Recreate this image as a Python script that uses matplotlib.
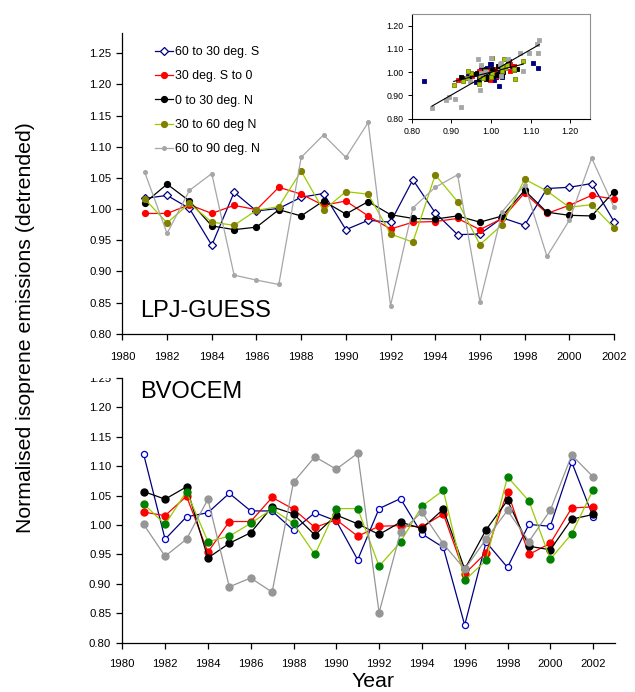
import matplotlib
matplotlib.use('Agg')
import matplotlib.pyplot as plt
import numpy as np
from matplotlib.ticker import FormatStrFormatter
from matplotlib.transforms import Bbox, TransformedBbox

plt.rcParams['font.family'] = ['Liberation Sans', 'DejaVu Sans']

# ---------------- data ----------------
years = list(range(1981, 2003))
region_labels = ["60 to 30 deg. S", "30 deg. S to 0", "0 to 30 deg. N",
                 "30 to 60 deg N", "60 to 90 deg. N"]

# LPJ-GUESS (upper panel)
lpj_60S_30S = [1.017, 1.022, 1.001, 0.942, 1.027, 0.997, 1.001, 1.019, 1.025, 0.967, 0.982,
               0.979, 1.047, 0.994, 0.959, 0.960, 0.986, 0.974, 1.033, 1.035, 1.041, 0.980]
lpj_30S_0 = [0.993, 0.993, 1.007, 0.993, 1.006, 0.999, 1.035, 1.024, 1.006, 1.013, 0.989,
             0.968, 0.979, 0.980, 0.985, 0.967, 0.985, 1.026, 0.993, 1.006, 1.022, 1.016]
lpj_0_30N = [1.010, 1.040, 1.013, 0.973, 0.967, 0.971, 0.999, 0.989, 1.013, 0.992, 1.012,
             0.991, 0.985, 0.984, 0.989, 0.979, 0.989, 1.030, 0.995, 0.990, 0.989, 1.028]
lpj_30N_60N = [1.016, 0.978, 1.009, 0.979, 0.974, 0.998, 1.004, 1.061, 0.998, 1.028, 1.024,
               0.960, 0.947, 1.055, 1.012, 0.943, 0.975, 1.048, 1.029, 1.003, 1.007, 0.970]
lpj_60N_90N = [1.059, 0.961, 1.030, 1.057, 0.894, 0.886, 0.879, 1.083, 1.119, 1.083, 1.139,
               0.845, 1.002, 1.035, 1.055, 0.851, 0.996, 1.039, 0.924, 0.982, 1.082, 1.003]

# BVOCEM (lower panel)
bvo_60S_30S = [1.120, 0.976, 1.014, 1.021, 1.054, 1.024, 1.024, 0.991, 1.021, 1.007, 0.941,
               1.028, 1.045, 0.985, 0.962, 0.830, 0.971, 0.928, 1.001, 0.998, 1.107, 1.014]
bvo_30S_0 = [1.022, 1.016, 1.049, 0.954, 1.006, 1.006, 1.047, 1.027, 0.996, 1.009, 0.981,
             0.998, 0.999, 0.997, 1.019, 0.917, 0.953, 1.057, 0.950, 0.969, 1.029, 1.031]
bvo_0_30N = [1.057, 1.044, 1.065, 0.944, 0.969, 0.987, 1.031, 1.019, 0.983, 1.017, 1.002,
             0.984, 1.005, 0.994, 1.027, 0.925, 0.992, 1.042, 0.964, 0.958, 1.010, 1.018]
bvo_30N_60N = [1.036, 1.001, 1.057, 0.972, 0.981, 1.003, 1.027, 1.003, 0.950, 1.028, 1.028,
               0.930, 0.971, 1.032, 1.059, 0.906, 0.940, 1.082, 1.041, 0.942, 0.985, 1.060]
bvo_60N_90N = [1.001, 0.947, 0.976, 1.044, 0.895, 0.910, 0.886, 1.073, 1.116, 1.095, 1.122,
               0.851, 0.988, 1.022, 0.968, 0.925, 0.976, 1.025, 0.972, 1.025, 1.119, 1.082]

lpj_series = [lpj_60S_30S, lpj_30S_0, lpj_0_30N, lpj_30N_60N, lpj_60N_90N]
bvo_series = [bvo_60S_30S, bvo_30S_0, bvo_0_30N, bvo_30N_60N, bvo_60N_90N]

y_ticks = [0.80, 0.85, 0.90, 0.95, 1.00, 1.05, 1.10, 1.15, 1.20, 1.25]
x_ticks = list(range(1980, 2003, 2))
inset_ticks = [0.80, 0.90, 1.00, 1.10, 1.20]

# ---------------- styles ----------------
NAVY = '#000080'
top_styles = [
    dict(color=NAVY, marker='D', ms=3.6, mfc='white', mec=NAVY, mew=0.9),
    dict(color='#FF0000', marker='o', ms=4.2, mfc='#FF0000', mec='#FF0000'),
    dict(color='black', marker='o', ms=4.2, mfc='black', mec='black'),
    dict(color='#99CC00', marker='o', ms=4.2, mfc='#808000', mec='#808000'),
    dict(color='#A6A6A6', marker='o', ms=2.6, mfc='#A6A6A6', mec='#A6A6A6'),
]
bot_styles = [
    dict(color=NAVY, marker='o', ms=4.4, mfc='white', mec='#0000CC', mew=0.9),
    dict(color='#FF0000', marker='o', ms=5.0, mfc='#FF0000', mec='#FF0000'),
    dict(color='black', marker='o', ms=5.0, mfc='black', mec='black'),
    dict(color='#99CC00', marker='o', ms=5.0, mfc='#008000', mec='#008000'),
    dict(color='#969696', marker='o', ms=5.0, mfc='#969696', mec='#969696'),
]
inset_colors = [(NAVY, NAVY), ('#FF0000', '#FF0000'), ('black', 'black'),
                ('#99CC00', '#808000'), ('#A6A6A6', '#A6A6A6')]

W, H = 635.0, 692.0
fig = plt.figure(figsize=(W / 100, H / 100), dpi=100)


def rect(x0, y0, x1, y1):
    return [x0 / W, 1 - y1 / H, (x1 - x0) / W, (y1 - y0) / H]


def style_axes(ax):
    for s in ['top', 'right']:
        ax.spines[s].set_visible(False)
    for s in ['left', 'bottom']:
        ax.spines[s].set_linewidth(0.9)
    ax.tick_params(direction='out', length=4, width=0.9, labelsize=8.2, colors='black')
    ax.yaxis.set_major_formatter(FormatStrFormatter('%.2f'))
    ax.set_yticks(y_ticks)
    ax.set_xticks(x_ticks)


# ---------------- upper panel ----------------
ax1 = fig.add_axes(rect(122.4, 33, 614, 333.7))
for vals, lab, st in zip(lpj_series, region_labels, top_styles):
    ax1.plot(years, vals, lw=0.9, label=lab, clip_on=False, **st)
ax1.set_xlim(1980, 2002)
ax1.set_ylim(0.80, 1.2826)
style_axes(ax1)
ax1.tick_params(axis='x', pad=9)
ax1.tick_params(axis='y', pad=4)
ax1.text(1980 + (140.5 - 122.4) / 22.35, 0.8273, 'LPJ-GUESS', fontsize=17,
         ha='left', va='baseline')

leg = ax1.legend(loc='upper left', bbox_to_anchor=(155 / W, 1 - 46 / H),
                 bbox_transform=fig.transFigure, frameon=False,
                 prop=dict(size=8.9),
                 handlelength=1.45, handletextpad=0.15, labelspacing=1.0,
                 borderpad=0, borderaxespad=0)

# ---------------- lower panel ----------------
ax2 = fig.add_axes(rect(122.3, 378, 614.5, 642.7))
for vals, lab, st in zip(bvo_series, region_labels, bot_styles):
    ax2.plot(years, vals, lw=0.9, label=lab, **st)
ax2.set_xlim(1980, 2003)
ax2.set_ylim(0.80, 1.25)
style_axes(ax2)
ax2.tick_params(axis='x', pad=7.5)
ax2.tick_params(axis='y', pad=4)
ax2.text(1980 + (140.5 - 122.3) / 21.4, 1.216, 'BVOCEM', fontsize=17,
         ha='left', va='baseline')

# clip the top tick label of the lower panel at the plot-area top (as in reference)
fig.canvas.draw()
clipbox = TransformedBbox(Bbox([[0, 0], [1, 1 - 378 / H]]), fig.transFigure)
for lbl in ax2.get_yticklabels():
    if lbl.get_text() == '1.25':
        lbl.set_clip_box(clipbox)
        lbl.set_clip_on(True)

# ---------------- inset scatter ----------------
ax3 = fig.add_axes(rect(411.7, 14, 590, 118.7))
for bv, lp, (fc, ec) in zip(bvo_series, lpj_series, inset_colors):
    ax3.scatter(bv, lp, marker='s', s=10, c=fc, edgecolors=ec, linewidths=0.6, zorder=2)
for idx in (4, 3):
    xs = np.array(bvo_series[idx])
    ys = np.array(lpj_series[idx])
    k, b = np.polyfit(xs, ys, 1)
    xl = np.array([xs.min(), xs.max()])
    ax3.plot(xl, k * xl + b, color='black', lw=0.8, zorder=3)
ax3.set_xlim(0.80, 1.25)
ax3.set_ylim(0.80, 1.25)
ax3.set_xticks(inset_ticks)
ax3.set_yticks(inset_ticks)
ax3.xaxis.set_major_formatter(FormatStrFormatter('%.2f'))
ax3.yaxis.set_major_formatter(FormatStrFormatter('%.2f'))
ax3.tick_params(direction='out', length=3, width=0.7, labelsize=6.3, pad=3)
ax3.spines['left'].set_linewidth(0.8)
ax3.spines['bottom'].set_linewidth(0.8)
for s in ['top', 'right']:
    ax3.spines[s].set_color('#909090')
    ax3.spines[s].set_linewidth(0.8)

# ---------------- axis titles ----------------
fig.text(26 / W, 1 - 328 / H, 'Normalised isoprene emissions (detrended)',
         rotation=90, fontsize=15.3, ha='center', va='center')
fig.text(372.5 / W, 1 - 687 / H, 'Year', fontsize=15.3, ha='center', va='baseline')

fig.savefig('out.png', dpi=100)
